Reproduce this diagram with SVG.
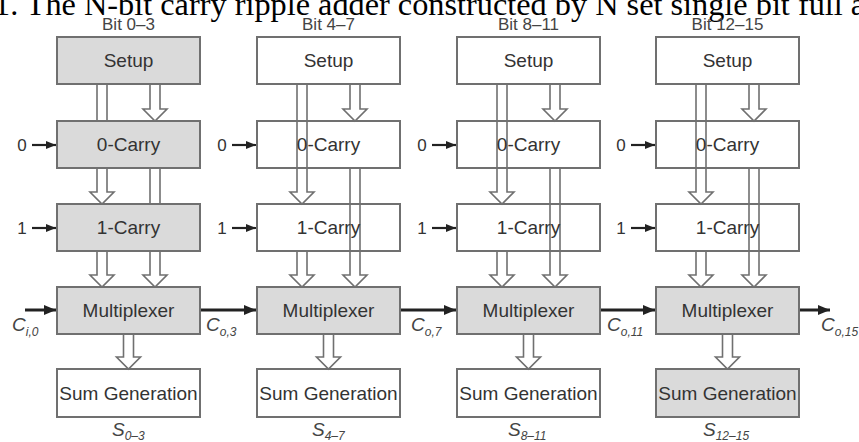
<svg xmlns="http://www.w3.org/2000/svg" width="859" height="442" viewBox="0 0 859 442">
<style>
.box{stroke:#707070;stroke-width:2}
.w{fill:none}
.g{fill:#dadada}
.bt{font-family:"Liberation Sans",Arial,sans-serif;font-size:19px;fill:#333;text-anchor:middle}
.hd{font-family:"Liberation Sans",Arial,sans-serif;font-size:17px;fill:#444;text-anchor:middle}
.in{font-family:"Liberation Sans",Arial,sans-serif;font-size:17px;fill:#333;text-anchor:middle}
.ha{fill:#fff;stroke:#707070;stroke-width:1.6;stroke-linejoin:miter}
.ca{stroke:#222;stroke-width:3;marker-end:url(#big)}
.ia{stroke:#222;stroke-width:2.2;marker-end:url(#small)}
.lab{font-family:"Liberation Sans",Arial,sans-serif;font-style:italic;font-size:19px;fill:#444}
.sub{font-size:12px}
</style>
<defs>
<marker id="big" markerUnits="userSpaceOnUse" markerWidth="12" markerHeight="10" refX="12" refY="5" orient="auto"><path d="M0,0 L12,5 L0,10 z" fill="#222"/></marker>
<marker id="small" markerUnits="userSpaceOnUse" markerWidth="10" markerHeight="8" refX="10" refY="4" orient="auto"><path d="M0,0 L10,4 L0,8 z" fill="#222"/></marker>
</defs>
<rect width="859" height="442" fill="#fff"/>
<text x="-6" y="15" font-family="Liberation Serif, 'Times New Roman', serif" font-size="32.3" fill="#000">1. The N-bit carry ripple adder constructed by N set single bit full a</text>
<g id="headings">
<text class="hd" x="128.5" y="30">Bit 0–3</text>
<text class="hd" x="328.5" y="30">Bit 4–7</text>
<text class="hd" x="528.5" y="30">Bit 8–11</text>
<text class="hd" x="727.5" y="30">Bit 12–15</text>
</g>
<g id="connectors">
<path class="ha" d="M97,84 V192 H90 L102,204 L114,192 H107 V84"/>
<path class="ha" d="M150,84 V109 H143 L155,121 L167,109 H160 V84"/>
<path class="ha" d="M150,168 V275 H143 L155,287 L167,275 H160 V168"/>
<path class="ha" d="M97,251 V275 H90 L102,287 L114,275 H107 V251"/>
<path class="ha" d="M123.5,334 V357 H116.5 L128.5,369 L140.5,357 H133.5 V334"/>
<path class="ha" d="M297,84 V192 H290 L302,204 L314,192 H307 V84"/>
<path class="ha" d="M350,84 V109 H343 L355,121 L367,109 H360 V84"/>
<path class="ha" d="M350,168 V275 H343 L355,287 L367,275 H360 V168"/>
<path class="ha" d="M297,251 V275 H290 L302,287 L314,275 H307 V251"/>
<path class="ha" d="M323.5,334 V357 H316.5 L328.5,369 L340.5,357 H333.5 V334"/>
<path class="ha" d="M497,84 V192 H490 L502,204 L514,192 H507 V84"/>
<path class="ha" d="M550,84 V109 H543 L555,121 L567,109 H560 V84"/>
<path class="ha" d="M550,168 V275 H543 L555,287 L567,275 H560 V168"/>
<path class="ha" d="M497,251 V275 H490 L502,287 L514,275 H507 V251"/>
<path class="ha" d="M523.5,334 V357 H516.5 L528.5,369 L540.5,357 H533.5 V334"/>
<path class="ha" d="M696,84 V192 H689 L701,204 L713,192 H706 V84"/>
<path class="ha" d="M749,84 V109 H742 L754,121 L766,109 H759 V84"/>
<path class="ha" d="M749,168 V275 H742 L754,287 L766,275 H759 V168"/>
<path class="ha" d="M696,251 V275 H689 L701,287 L713,275 H706 V251"/>
<path class="ha" d="M722.5,334 V357 H715.5 L727.5,369 L739.5,357 H732.5 V334"/>
<line class="ia" x1="32" y1="145" x2="56" y2="145"/>
<line class="ia" x1="32" y1="228" x2="56" y2="228"/>
<line class="ia" x1="232" y1="145" x2="256" y2="145"/>
<line class="ia" x1="232" y1="228" x2="256" y2="228"/>
<line class="ia" x1="432" y1="145" x2="456" y2="145"/>
<line class="ia" x1="432" y1="228" x2="456" y2="228"/>
<line class="ia" x1="631" y1="145" x2="655" y2="145"/>
<line class="ia" x1="631" y1="228" x2="655" y2="228"/>
<line class="ca" x1="25" y1="310" x2="56" y2="310"/>
<line class="ca" x1="200" y1="310" x2="256" y2="310"/>
<line class="ca" x1="400" y1="310" x2="456" y2="310"/>
<line class="ca" x1="600" y1="310" x2="655" y2="310"/>
<line class="ca" x1="798" y1="310" x2="830" y2="310"/>
</g>
<g id="inputs">
<text class="in" x="22" y="151">0</text><text class="in" x="22" y="234">1</text>
<text class="in" x="222" y="151">0</text><text class="in" x="222" y="234">1</text>
<text class="in" x="422" y="151">0</text><text class="in" x="422" y="234">1</text>
<text class="in" x="621" y="151">0</text><text class="in" x="621" y="234">1</text>
</g>
<g id="carry-labels">
<text class="lab" x="12" y="331">C<tspan class="sub" dy="5">i,0</tspan></text>
<text class="lab" x="206" y="331">C<tspan class="sub" dy="5">o,3</tspan></text>
<text class="lab" x="411" y="331">C<tspan class="sub" dy="5">o,7</tspan></text>
<text class="lab" x="607" y="331">C<tspan class="sub" dy="5">o,11</tspan></text>
<text class="lab" x="821" y="331">C<tspan class="sub" dy="5">o,15</tspan></text>
</g>
<g id="sum-labels">
<text class="lab" x="112" y="436">S<tspan class="sub" dy="4">0–3</tspan></text>
<text class="lab" x="312" y="436">S<tspan class="sub" dy="4">4–7</tspan></text>
<text class="lab" x="508" y="436">S<tspan class="sub" dy="4">8–11</tspan></text>
<text class="lab" x="703" y="436">S<tspan class="sub" dy="4">12–15</tspan></text>
</g>
<g id="setup-0"><rect class="box g" x="57" y="37" width="143" height="47"/><text class="bt" x="128.5" y="67">Setup</text></g>
<g id="carry0-0"><rect class="box g" x="57" y="121" width="143" height="47"/><text class="bt" x="128.5" y="151">0-Carry</text></g>
<g id="carry1-0"><rect class="box g" x="57" y="204" width="143" height="47"/><text class="bt" x="128.5" y="234">1-Carry</text></g>
<g id="mux-0"><rect class="box g" x="57" y="287" width="143" height="47"/><text class="bt" x="128.5" y="317">Multiplexer</text></g>
<g id="sum-0"><rect class="box w" x="57" y="369" width="143" height="48"/><text class="bt" x="128.5" y="400">Sum Generation</text></g>
<g id="setup-1"><rect class="box w" x="257" y="37" width="143" height="47"/><text class="bt" x="328.5" y="67">Setup</text></g>
<g id="carry0-1"><rect class="box w" x="257" y="121" width="143" height="47"/><text class="bt" x="328.5" y="151">0-Carry</text></g>
<g id="carry1-1"><rect class="box w" x="257" y="204" width="143" height="47"/><text class="bt" x="328.5" y="234">1-Carry</text></g>
<g id="mux-1"><rect class="box g" x="257" y="287" width="143" height="47"/><text class="bt" x="328.5" y="317">Multiplexer</text></g>
<g id="sum-1"><rect class="box w" x="257" y="369" width="143" height="48"/><text class="bt" x="328.5" y="400">Sum Generation</text></g>
<g id="setup-2"><rect class="box w" x="457" y="37" width="143" height="47"/><text class="bt" x="528.5" y="67">Setup</text></g>
<g id="carry0-2"><rect class="box w" x="457" y="121" width="143" height="47"/><text class="bt" x="528.5" y="151">0-Carry</text></g>
<g id="carry1-2"><rect class="box w" x="457" y="204" width="143" height="47"/><text class="bt" x="528.5" y="234">1-Carry</text></g>
<g id="mux-2"><rect class="box g" x="457" y="287" width="143" height="47"/><text class="bt" x="528.5" y="317">Multiplexer</text></g>
<g id="sum-2"><rect class="box w" x="457" y="369" width="143" height="48"/><text class="bt" x="528.5" y="400">Sum Generation</text></g>
<g id="setup-3"><rect class="box w" x="656" y="37" width="143" height="47"/><text class="bt" x="727.5" y="67">Setup</text></g>
<g id="carry0-3"><rect class="box w" x="656" y="121" width="143" height="47"/><text class="bt" x="727.5" y="151">0-Carry</text></g>
<g id="carry1-3"><rect class="box w" x="656" y="204" width="143" height="47"/><text class="bt" x="727.5" y="234">1-Carry</text></g>
<g id="mux-3"><rect class="box g" x="656" y="287" width="143" height="47"/><text class="bt" x="727.5" y="317">Multiplexer</text></g>
<g id="sum-3"><rect class="box g" x="656" y="369" width="143" height="48"/><text class="bt" x="727.5" y="400">Sum Generation</text></g>
</svg>
